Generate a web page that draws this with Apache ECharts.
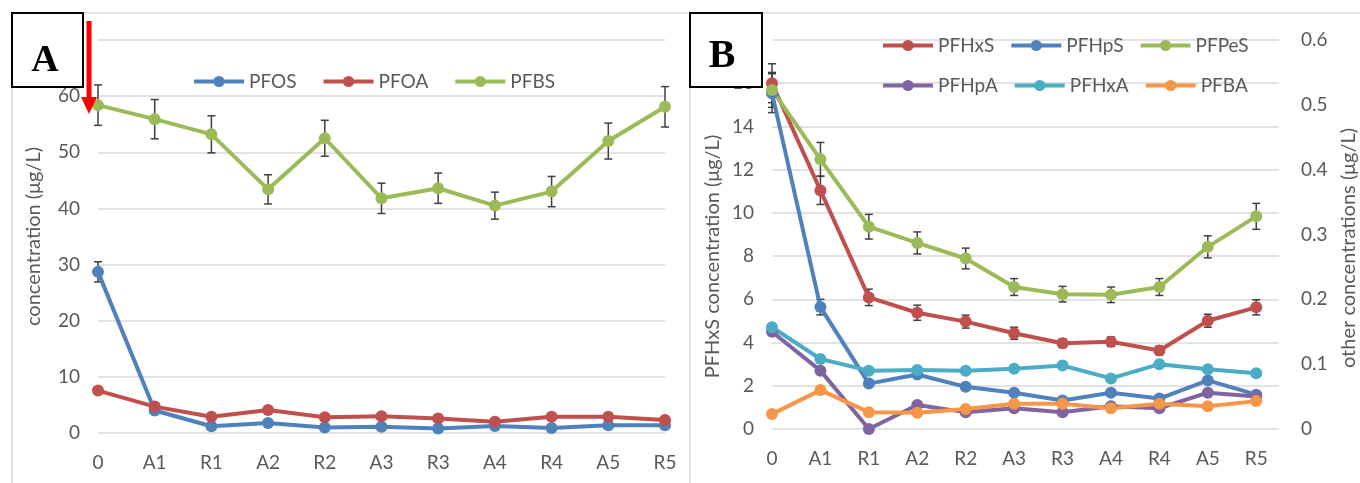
<!DOCTYPE html>
<html>
<head>
<meta charset="utf-8">
<script src="https://cdn.jsdelivr.net/npm/echarts@6/dist/echarts.min.js"></script>
<style>
  html, body { margin: 0; padding: 0; background: #fff; }
  #main { width: 1360px; height: 483px; }
</style>
</head>
<body>
<div id="main"></div>
<script>
var myChart = echarts.init(document.getElementById('main'));

// sampling points
var cats = ['0', 'A1', 'R1', 'A2', 'R2', 'A3', 'R3', 'A4', 'R4', 'A5', 'R5'];

// panel A (μg/L)
var pfos    = [28.7, 4.0, 1.2, 1.8, 1.0, 1.1, 0.8, 1.25, 0.9, 1.4, 1.4];
var pfosErr = [1.8, 0.3, 0.1, 0.2, 0.1, 0.1, 0.1, 0.1, 0.1, 0.1, 0.1];
var pfoa    = [7.55, 4.7, 2.9, 4.1, 2.8, 3.0, 2.6, 2.0, 2.9, 2.9, 2.3];
var pfoaErr = [0.3, 0.2, 0.15, 0.2, 0.15, 0.15, 0.15, 0.1, 0.15, 0.15, 0.1];
var pfbs    = [58.4, 55.9, 53.2, 43.4, 52.5, 41.8, 43.6, 40.5, 43.0, 52.0, 58.1];
var pfbsErr = [3.6, 3.5, 3.3, 2.6, 3.2, 2.7, 2.7, 2.4, 2.7, 3.2, 3.6];

// panel B, PFHxS on left axis, the rest on right axis (μg/L)
var pfhxs    = [16.0, 11.04, 6.09, 5.38, 4.97, 4.43, 3.97, 4.04, 3.63, 5.01, 5.63];
var pfhxsErr = [0.9, 0.65, 0.38, 0.35, 0.3, 0.28, 0.2, 0.22, 0.2, 0.3, 0.35];
var pfhps    = [0.518, 0.188, 0.070, 0.084, 0.065, 0.056, 0.044, 0.056, 0.047, 0.075, 0.053];
var pfhpsErr = [0.03, 0.012, 0.004, 0.004, 0.003, 0.003, 0.003, 0.003, 0.003, 0.004, 0.003];
var pfpes    = [0.523, 0.416, 0.312, 0.287, 0.263, 0.219, 0.208, 0.207, 0.219, 0.281, 0.328];
var pfpesErr = [0.027, 0.026, 0.019, 0.017, 0.016, 0.013, 0.012, 0.012, 0.013, 0.017, 0.02];
var pfhpa    = [0.150, 0.090, 0.0, 0.037, 0.026, 0.032, 0.026, 0.035, 0.032, 0.056, 0.050];
var pfhxa    = [0.157, 0.108, 0.090, 0.091, 0.090, 0.093, 0.098, 0.078, 0.100, 0.092, 0.086];
var pfba     = [0.023, 0.060, 0.026, 0.025, 0.031, 0.039, 0.039, 0.032, 0.039, 0.035, 0.043];

var FONT = 'Lato';
var TXT = '#595959';
var GRIDC = '#d9d9d9';

function errRender(params, api) {
    var x = api.value(0), y = api.value(1), e = api.value(2);
    if (!e) return;
    var t = api.coord([x, y + e]);
    var b = api.coord([x, y - e]);
    var w = 4;
    var st = { stroke: '#404040', lineWidth: 1.5 };
    return {
        type: 'group',
        children: [
            { type: 'line', shape: { x1: t[0], y1: t[1], x2: b[0], y2: b[1] }, style: st },
            { type: 'line', shape: { x1: t[0] - w, y1: t[1], x2: t[0] + w, y2: t[1] }, style: st },
            { type: 'line', shape: { x1: b[0] - w, y1: b[1], x2: b[0] + w, y2: b[1] }, style: st }
        ]
    };
}

function errSeries(vals, errs, xi, yi) {
    return {
        type: 'custom',
        xAxisIndex: xi,
        yAxisIndex: yi,
        renderItem: errRender,
        encode: { x: 0, y: 1 },
        data: vals.map(function (v, i) { return [i, v, errs[i]]; }),
        z: 1,
        silent: true
    };
}

function lineA(name, vals, color) {
    return {
        name: name, type: 'line', xAxisIndex: 0, yAxisIndex: 0,
        data: vals, symbol: 'circle', symbolSize: 12,
        lineStyle: { width: 4, color: color },
        itemStyle: { color: color },
        z: 3
    };
}

function lineB(name, vals, color, yi) {
    return {
        name: name, type: 'line', xAxisIndex: 1, yAxisIndex: yi,
        data: vals.map(function (v, i) { return [i, v]; }),
        symbol: 'circle', symbolSize: 12,
        lineStyle: { width: 4, color: color },
        itemStyle: { color: color },
        z: 3
    };
}

var axisText = { fontSize: 19, color: TXT, fontFamily: FONT };
var legendText = { fontSize: 19, color: TXT, fontFamily: FONT };
var legendBase = { itemWidth: 50, itemHeight: 14, lineStyle: { width: 4 }, textStyle: legendText };

var option = {
    backgroundColor: '#fff',
    animation: false,
    grid: [
        { left: 98, right: 695, top: 40, bottom: 50 },
        { left: 772, right: 77, top: 40, bottom: 54 }
    ],
    legend: [
        Object.assign({ data: ['PFOS', 'PFOA', 'PFBS'], left: 187, top: 67, itemGap: 25 }, legendBase),
        Object.assign({ data: ['PFHxS', 'PFHpS', 'PFPeS'], left: 876, top: 31, itemGap: 15 }, legendBase),
        Object.assign({ data: ['PFHpA', 'PFHxA', 'PFBA'], left: 876, top: 71, itemGap: 15 }, legendBase)
    ],
    xAxis: [
        {
            gridIndex: 0, type: 'category', data: cats, boundaryGap: false,
            axisLine: { show: false }, axisTick: { show: false },
            axisLabel: Object.assign({ margin: 20 }, axisText)
        },
        {
            gridIndex: 1, type: 'value', min: 0, max: 10.47, interval: 1,
            splitLine: { show: false },
            axisLine: { show: false }, axisTick: { show: false },
            axisLabel: Object.assign({
                margin: 20,
                formatter: function (v) { return Number.isInteger(v) ? cats[v] : ''; }
            }, axisText)
        }
    ],
    yAxis: [
        {
            gridIndex: 0, type: 'value', min: 0, max: 70, interval: 10,
            name: 'concentration (μg/L)', nameLocation: 'middle', nameRotate: 90, nameGap: 54,
            nameTextStyle: { fontSize: 20, color: TXT, fontFamily: FONT },
            axisLine: { show: false }, axisTick: { show: false },
            splitLine: { lineStyle: { color: GRIDC, width: 1.5 } },
            axisLabel: Object.assign({ margin: 18 }, axisText)
        },
        {
            gridIndex: 1, type: 'value', min: 0, max: 18, interval: 2, position: 'left',
            name: 'PFHxS concentration (μg/L)', nameLocation: 'middle', nameRotate: 90, nameGap: 49,
            nameTextStyle: { fontSize: 20, color: TXT, fontFamily: FONT, padding: [0, 44, 0, 0] },
            axisLine: { show: false }, axisTick: { show: false },
            splitLine: { lineStyle: { color: GRIDC, width: 1.5 } },
            axisLabel: Object.assign({ margin: 18 }, axisText)
        },
        {
            gridIndex: 1, type: 'value', min: 0, max: 0.6, interval: 0.1, position: 'right',
            name: 'other concentrations (μg/L)', nameLocation: 'middle', nameRotate: 90, nameGap: 60,
            nameTextStyle: { fontSize: 20, color: TXT, fontFamily: FONT, padding: [0, 27, 0, 0] },
            axisLine: { show: false }, axisTick: { show: false },
            splitLine: { show: false },
            axisLabel: Object.assign({ margin: 22 }, axisText)
        }
    ],
    graphic: [
        // panel frames
        { type: 'line', z: 0, shape: { x1: 12, y1: 13, x2: 12, y2: 483 }, style: { stroke: GRIDC, lineWidth: 1.5 } },
        { type: 'line', z: 0, shape: { x1: 12, y1: 13, x2: 688, y2: 13 }, style: { stroke: GRIDC, lineWidth: 1.5 } },
        { type: 'line', z: 0, shape: { x1: 690, y1: 13, x2: 690, y2: 483 }, style: { stroke: GRIDC, lineWidth: 1.5 } },
        { type: 'line', z: 0, shape: { x1: 690, y1: 13, x2: 1360, y2: 13 }, style: { stroke: GRIDC, lineWidth: 1.5 } },
        // panel tags
        { type: 'rect', z: 100, shape: { x: 12, y: 13, width: 71, height: 74 }, style: { fill: '#fff', stroke: '#000', lineWidth: 2 } },
        { type: 'text', z: 101, x: 45, y: 61, style: { text: 'A', font: 'bold 38px "Liberation Serif"', fill: '#000', textAlign: 'center', textVerticalAlign: 'middle' } },
        { type: 'rect', z: 100, shape: { x: 690, y: 13, width: 72, height: 74 }, style: { fill: '#fff', stroke: '#000', lineWidth: 2 } },
        { type: 'text', z: 101, x: 722, y: 57, style: { text: 'B', font: 'bold 40px "Liberation Serif"', fill: '#000', textAlign: 'center', textVerticalAlign: 'middle' } },
        // red arrow
        { type: 'rect', z: 100, shape: { x: 86.5, y: 21, width: 5, height: 77 }, style: { fill: '#ff0000' } },
        { type: 'polygon', z: 100, shape: { points: [[81, 97], [97, 97], [89, 114]] }, style: { fill: '#ff0000' } }
    ],
    series: [
        errSeries(pfos, pfosErr, 0, 0),
        errSeries(pfoa, pfoaErr, 0, 0),
        errSeries(pfbs, pfbsErr, 0, 0),
        lineA('PFOS', pfos, '#4f81bd'),
        lineA('PFOA', pfoa, '#c0504d'),
        lineA('PFBS', pfbs, '#9bbb59'),

        errSeries(pfhxs, pfhxsErr, 1, 1),
        errSeries(pfhps, pfhpsErr, 1, 2),
        errSeries(pfpes, pfpesErr, 1, 2),
        lineB('PFHxS', pfhxs, '#c0504d', 1),
        lineB('PFHpS', pfhps, '#4f81bd', 2),
        lineB('PFPeS', pfpes, '#9bbb59', 2),
        lineB('PFHpA', pfhpa, '#8064a2', 2),
        lineB('PFHxA', pfhxa, '#4bacc6', 2),
        lineB('PFBA', pfba, '#f79646', 2)
    ]
};

myChart.setOption(option);
</script>
</body>
</html>
